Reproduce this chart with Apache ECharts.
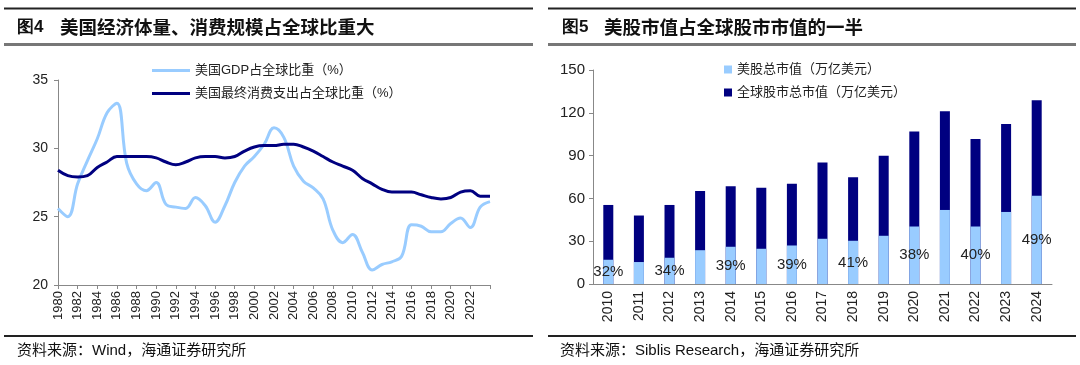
<!DOCTYPE html>
<html><head><meta charset="utf-8">
<script src="https://cdn.jsdelivr.net/npm/echarts@6/dist/echarts.min.js"></script>
<style>html,body{margin:0;padding:0;background:#fff}#c{width:1080px;height:365px}</style>
</head><body><div id="c"></div>
<script>
// ---- Left chart data ----
const years = ['1980','1981','1982','1983','1984','1985','1986','1987','1988','1989',
  '1990','1991','1992','1993','1994','1995','1996','1997','1998','1999',
  '2000','2001','2002','2003','2004','2005','2006','2007','2008','2009',
  '2010','2011','2012','2013','2014','2015','2016','2017','2018','2019',
  '2020','2021','2022','2023','2024'];
const gdpShare = [25.6,25.0,27.4,29.1,30.7,32.6,33.3,28.9,27.4,26.9,
  27.5,25.9,25.7,25.6,26.4,25.8,24.6,25.8,27.5,28.7,
  29.4,30.3,31.5,30.8,28.7,27.6,27.1,26.3,24.0,23.1,
  23.7,22.4,21.1,21.5,21.7,22.1,24.4,24.3,23.9,23.9,
  24.5,24.9,24.2,25.7,26.1];
const consShare = [28.4,28.0,27.9,28.0,28.6,29.0,29.4,29.4,29.4,29.4,
  29.3,29.0,28.8,29.0,29.3,29.4,29.4,29.3,29.4,29.8,
  30.1,30.2,30.2,30.3,30.3,30.1,29.8,29.4,29.0,28.7,
  28.4,27.8,27.4,27.0,26.8,26.8,26.8,26.6,26.4,26.3,
  26.4,26.8,26.9,26.5,26.5];
const leftNames = ['美国GDP占全球比重（%）','美国最终消费支出占全球比重（%）'];
const leftTicks = [20,25,30,35];

// ---- Right chart data ----
const barYears = ['2010','2011','2012','2013','2014','2015','2016','2017','2018','2019','2020','2021','2022','2023','2024'];
const usCap = [17.0,15.4,18.4,23.7,26.1,24.7,27.0,31.7,30.3,33.8,40.3,51.9,40.3,50.5,61.9];
const globalCap = [55.4,48.0,55.4,65.2,68.5,67.5,70.3,85.2,74.8,89.9,106.9,121.1,101.7,112.2,128.8];
const shareLabels = ['32%','','34%','','39%','','39%','','41%','','38%','','40%','','49%'];
const rightNames = ['美股总市值（万亿美元）','全球股市总市值（万亿美元）'];
const rightTicks = [0,30,60,90,120,150];

const titles = ['图4','美国经济体量、消费规模占全球比重大','图5','美股市值占全球股市市值的一半'];
const sources = ['资料来源：Wind，海通证券研究所','资料来源：Siblis Research，海通证券研究所'];

const NUM = '"Liberation Sans", Arial, sans-serif';
const CJK = '"Noto Sans CJK SC", sans-serif';
const MIX = '"Liberation Sans", "Noto Sans CJK SC", sans-serif';
const axisGray = '#888';
const txt = '#222';

const chart = echarts.init(document.getElementById('c'), null, {renderer:'canvas'});

function hline(x1,x2,y,w,c){
  return {type:'line', shape:{x1:x1,y1:y,x2:x2,y2:y}, style:{stroke:c, lineWidth:w}, silent:true};
}
function text(x,y,t,size,weight,font){
  return {type:'text', x:x, y:y, style:{text:t, fill:'#111', font:(weight||'normal')+' '+size+'px '+(font||CJK), textVerticalAlign:'middle'}, silent:true};
}

const option = {
  animation:false,
  backgroundColor:'#fff',
  graphic:[
    hline(4,533,8.5,2,'#222'), hline(548,1076,8.5,2,'#222'),
    hline(4,533,44.5,3,'#777'), hline(548,1076,44.5,3,'#777'),
    hline(4,533,336,2,'#222'), hline(548,1076,336,2,'#222'),
    text(17,27,titles[0],17,'bold',NUM),
    text(60,27,titles[1],18.5,'bold'),
    text(562,27,titles[2],17,'bold',NUM),
    text(604,27,titles[3],18.5,'bold'),
    text(17,351,sources[0],15,'normal',MIX),
    text(560,351,sources[1],15,'normal',MIX)
  ],
  legend:[
    {data:leftNames, orient:'vertical', left:147, top:59, itemWidth:38, itemHeight:3, itemGap:10, icon:'rect',
     textStyle:{fontFamily:MIX, fontSize:13, color:txt}},
    {data:rightNames, orient:'vertical', left:719, top:58, itemWidth:8, itemHeight:8, itemGap:10, icon:'rect',
     textStyle:{fontFamily:MIX, fontSize:13, color:txt}}
  ],
  grid:[
    {left:58, right:590, top:80, bottom:80},
    {left:593, right:28, top:70, bottom:81}
  ],
  xAxis:[
    {type:'category', gridIndex:0, data:years, boundaryGap:false,
     axisLine:{lineStyle:{color:axisGray}}, axisTick:{interval:1, length:4, lineStyle:{color:axisGray}},
     axisLabel:{interval:1, rotate:90, fontFamily:NUM, fontSize:13, color:txt, margin:6,
       formatter:function(v){return v==='2024'?'':v;}}},
    {type:'category', gridIndex:1, data:barYears, boundaryGap:true,
     axisLine:{lineStyle:{color:axisGray}}, axisTick:{length:4, lineStyle:{color:axisGray}},
     axisLabel:{interval:0, rotate:90, fontFamily:NUM, fontSize:14, color:txt, margin:7}}
  ],
  yAxis:[
    {type:'value', gridIndex:0, min:leftTicks[0], max:leftTicks[leftTicks.length-1], interval:5,
     splitLine:{show:false}, axisLine:{show:true, lineStyle:{color:axisGray}},
     axisTick:{show:true, length:4, lineStyle:{color:axisGray}},
     axisLabel:{fontFamily:NUM, fontSize:14, color:txt, margin:10}},
    {type:'value', gridIndex:1, min:rightTicks[0], max:rightTicks[rightTicks.length-1], interval:30,
     splitLine:{show:false}, axisLine:{show:true, lineStyle:{color:axisGray}},
     axisTick:{show:true, length:4, lineStyle:{color:axisGray}},
     axisLabel:{fontFamily:NUM, fontSize:15, color:txt, margin:8}}
  ],
  series:[
    {name:leftNames[0], type:'line', xAxisIndex:0, yAxisIndex:0, data:gdpShare, smooth:0.4, symbol:'none',
     lineStyle:{width:3, color:'#99CCFF'}, itemStyle:{color:'#99CCFF'}},
    {name:leftNames[1], type:'line', xAxisIndex:0, yAxisIndex:0, data:consShare, smooth:0.4, symbol:'none',
     lineStyle:{width:3, color:'#000080'}, itemStyle:{color:'#000080'}},
    {name:rightNames[1], type:'bar', xAxisIndex:1, yAxisIndex:1, data:globalCap, barWidth:10,
     itemStyle:{color:'#000080'}},
    {name:rightNames[0], type:'bar', xAxisIndex:1, yAxisIndex:1, data:usCap, barWidth:10, barGap:'-100%',
     itemStyle:{color:'#99CCFF'},
     label:{show:true, position:'inside', fontFamily:NUM, fontSize:15, color:txt,
       formatter:function(p){return shareLabels[p.dataIndex];}}}
  ]
};
chart.setOption(option);
</script>
</body></html>
